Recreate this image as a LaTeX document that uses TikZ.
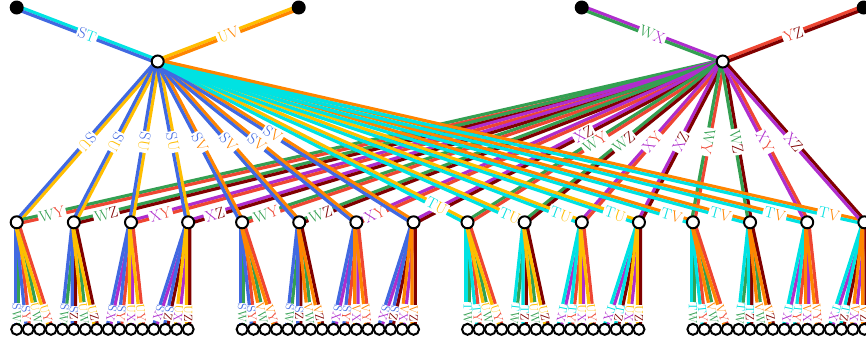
\documentclass[tikz,border=0pt]{standalone}
\usetikzlibrary{calc,backgrounds}

\definecolor{colS}{RGB}{65,105,225}
\definecolor{colT}{RGB}{0,226,226}
\definecolor{colU}{RGB}{255,190,0}
\definecolor{colV}{RGB}{255,133,0}
\definecolor{colW}{RGB}{52,160,82}
\definecolor{colX}{RGB}{175,45,205}
\definecolor{colY}{RGB}{238,70,50}
\definecolor{colZ}{RGB}{128,0,0}

\tikzset{
  root/.style={circle, fill=black, minimum size=14pt, inner sep=0pt},
  knot/.style={circle, draw=black, fill=white, line width=2pt, minimum size=12pt, inner sep=0pt},
  leaf/.style={knot, minimum size=11pt},
  wire/.style={line width=3.2pt},
  lab/.style={sloped, allow upside down, fill=white, inner sep=1.5pt, font=\fontsize{15.5}{16}\selectfont},
  leaflab/.style={lab, inner sep=0.5pt, font=\fontsize{12}{13}\selectfont}
}

\newcommand{\half}{1.6pt}
\newcommand{\duet}[2]{\textcolor{col#1}{#1}\textcolor{col#2}{#2}}
\newcommand{\pairedge}[7][lab]{
  \draw[wire, draw=col#4] ($(#2)!\half!90:(#3)$) -- ($(#3)!\half!-90:(#2)$);
  \draw[wire, draw=col#5] ($(#2)!\half!-90:(#3)$) -- ($(#3)!\half!90:(#2)$);
  \path (#2.center) -- node[#1, pos=#7] {#6} (#3.center);
}

\begin{document}
\begin{tikzpicture}[x=1pt, y=-1pt]
  \useasboundingbox (0,0) rectangle (866,349);
  \node[root] (r1) at (16.7,7.5) {};
  \node[root] (r2) at (298.7,7.5) {};
  \node[root] (r3) at (581.7,7.5) {};
  \node[root] (r4) at (863.7,7.5) {};
  \node[knot] (h1) at (157.7,61.5) {};
  \node[knot] (h2) at (722.7,61.5) {};
  \foreach \n in {0,...,15}
    \node[knot] (m\n) at ({16.7+225.4*int(\n/4)+57.15*mod(\n,4)},222.3) {};
  \foreach \i in {0,...,63}
    \node[leaf] (l\i) at ({16.7+225.4*int(\i/16)+11.43*mod(\i,16)},329.3) {};

  \begin{scope}[on background layer]
    \pairedge{r1}{h1}{T}{S}{\duet ST}{0.5}
    \pairedge{h1}{r2}{U}{V}{\duet UV}{0.5}
    \pairedge{r3}{h2}{X}{W}{\duet WX}{0.5}
    \pairedge{h2}{r4}{Y}{Z}{\duet YZ}{0.5}
    \foreach \n/\pA/\pB/\pC/\pD/\posL/\posR in {
        0/S/U/W/Y/0.5/0.05,  1/S/U/W/Z/0.5/0.05,  2/S/U/X/Y/0.5/0.05,  3/S/U/X/Z/0.5/0.05,
        4/S/V/W/Y/0.5/0.05,  5/S/V/W/Z/0.5/0.05,  6/S/V/X/Y/0.5/0.05,  7/S/V/X/Z/0.45/0.55,
        8/T/U/W/Y/0.9/0.5,   9/T/U/W/Z/0.96/0.5, 10/T/U/X/Y/0.95/0.5, 11/T/U/X/Z/0.95/0.5,
       12/T/V/W/Y/0.96/0.5, 13/T/V/W/Z/0.95/0.5, 14/T/V/X/Y/0.95/0.5, 15/T/V/X/Z/0.95/0.5}{
      \pairedge{h1}{m\n}{\pB}{\pA}{\duet\pA\pB}{\posL}
      \ifnum\n<12
        \pairedge{m\n}{h2}{\pC}{\pD}{\duet\pC\pD}{\posR}
      \else
        \pairedge{h2}{m\n}{\pD}{\pC}{\duet\pC\pD}{\posR}
      \fi
      \foreach \j/\p/\q in {0/\pA/\pC, 1/\pA/\pD, 2/\pB/\pC, 3/\pB/\pD}{
        \pgfmathtruncatemacro{\lf}{4*\n+\j}
        \pairedge[leaflab]{m\n}{l\lf}{\q}{\p}{\duet\p\q}{0.85}
      }
    }
  \end{scope}
\end{tikzpicture}
\end{document}
